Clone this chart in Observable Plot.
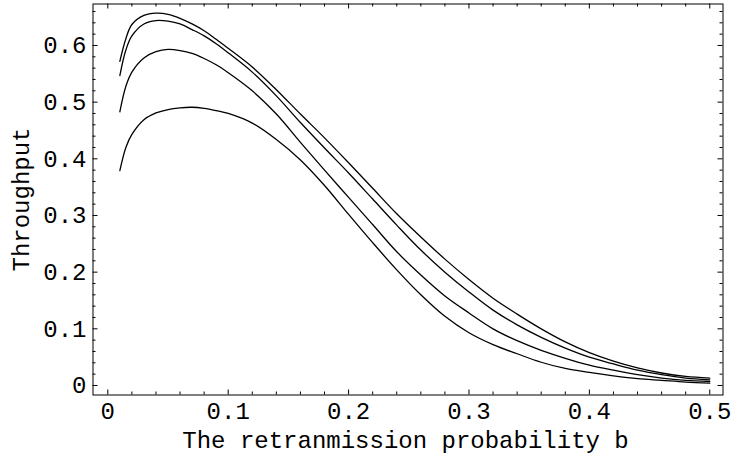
<!DOCTYPE html>
<html>
<head>
<meta charset="utf-8">
<script src="https://cdn.jsdelivr.net/npm/d3@7"></script>
<script src="https://cdn.jsdelivr.net/npm/@observablehq/plot@0.6"></script>
<style>
  body { margin: 0; background: #fff; }
</style>
</head>
<body>
<div id="chart"></div>
<script>
// Retransmission probability b (shared x values)
const b = [0.01, 0.015, 0.02, 0.03, 0.04, 0.05, 0.06, 0.07, 0.08, 0.09, 0.10,
           0.12, 0.14, 0.16, 0.18, 0.20, 0.22, 0.24, 0.26, 0.28, 0.30,
           0.32, 0.34, 0.36, 0.38, 0.40, 0.42, 0.44, 0.46, 0.48, 0.50];

// Throughput series (top to bottom)
const series1 = [0.572, 0.612, 0.637, 0.653, 0.657, 0.655, 0.648, 0.638, 0.626, 0.611, 0.595,
                 0.562, 0.522, 0.479, 0.437, 0.393, 0.348, 0.303, 0.262, 0.223, 0.187,
                 0.154, 0.126, 0.100, 0.077, 0.058, 0.043, 0.031, 0.022, 0.016, 0.013];
const series2 = [0.547, 0.592, 0.617, 0.638, 0.644, 0.643, 0.638, 0.628, 0.617, 0.603, 0.587,
                 0.553, 0.511, 0.464, 0.419, 0.375, 0.329, 0.283, 0.239, 0.200, 0.165,
                 0.133, 0.107, 0.085, 0.066, 0.050, 0.038, 0.027, 0.019, 0.013, 0.010];
const series3 = [0.483, 0.528, 0.553, 0.578, 0.589, 0.593, 0.591, 0.586, 0.577, 0.566, 0.552,
                 0.520, 0.479, 0.429, 0.380, 0.332, 0.284, 0.236, 0.195, 0.158, 0.128,
                 0.100, 0.079, 0.062, 0.048, 0.036, 0.027, 0.019, 0.013, 0.009, 0.007];
const series4 = [0.379, 0.420, 0.443, 0.469, 0.481, 0.487, 0.490, 0.491, 0.489, 0.485, 0.480,
                 0.463, 0.434, 0.398, 0.353, 0.302, 0.252, 0.204, 0.160, 0.122, 0.093,
                 0.072, 0.056, 0.041, 0.030, 0.023, 0.017, 0.012, 0.009, 0.006, 0.004];

// Tick values and labels
const xTicks = [0, 0.1, 0.2, 0.3, 0.4, 0.5];
const xMinorTicks = [0.02, 0.04, 0.06, 0.08, 0.12, 0.14, 0.16, 0.18, 0.22, 0.24, 0.26, 0.28,
                     0.32, 0.34, 0.36, 0.38, 0.42, 0.44, 0.46, 0.48];
const yTicks = [0, 0.1, 0.2, 0.3, 0.4, 0.5, 0.6];
const yMinorTicks = [0.02, 0.04, 0.06, 0.08, 0.12, 0.14, 0.16, 0.18, 0.22, 0.24, 0.26, 0.28,
                     0.32, 0.34, 0.36, 0.38, 0.42, 0.44, 0.46, 0.48, 0.52, 0.54, 0.56, 0.58,
                     0.62, 0.64, 0.66];
const xTitle = "The retranmission probability b";
const yTitle = "Throughput";

const seriesList = [series1, series2, series3, series4];
const rows = seriesList.flatMap((vals, k) => vals.map((v, i) => ({b: b[i], v, series: "curve " + (k + 1)})));

const W = 732, H = 457;
const mL = 92.5, mR = 9.5, mT = 3.5, mB = 62.5;
const frameW = W - mL - mR;
const frameH = H - mT - mB;
const major = 5, minor = 3;

const chart = Plot.plot({
  width: W,
  height: H,
  marginLeft: mL,
  marginRight: mR,
  marginTop: mT,
  marginBottom: mB,
  x: {domain: [-0.0123, 0.511]},
  y: {domain: [-0.0168, 0.6732]},
  style: {fontFamily: "'Liberation Mono', monospace", fontSize: "24px", background: "#fff", color: "#000"},
  marks: [
    Plot.frame({stroke: "#000", strokeWidth: 1}),
    // inward ticks: bottom
    Plot.tickX(xTicks, {x: d => d, insetTop: frameH - major, stroke: "#000"}),
    Plot.tickX(xMinorTicks, {x: d => d, insetTop: frameH - minor, stroke: "#000"}),
    // top
    Plot.tickX(xTicks, {x: d => d, insetBottom: frameH - major, stroke: "#000"}),
    Plot.tickX(xMinorTicks, {x: d => d, insetBottom: frameH - minor, stroke: "#000"}),
    // left
    Plot.tickY(yTicks, {y: d => d, insetRight: frameW - major, stroke: "#000"}),
    Plot.tickY(yMinorTicks, {y: d => d, insetRight: frameW - minor, stroke: "#000"}),
    // right
    Plot.tickY(yTicks, {y: d => d, insetLeft: frameW - major, stroke: "#000"}),
    Plot.tickY(yMinorTicks, {y: d => d, insetLeft: frameW - minor, stroke: "#000"}),
    // tick labels
    Plot.axisX({ticks: xTicks, anchor: "bottom", tickSize: 0, tickPadding: 6.5, tickFormat: d => String(d), label: null, fill: "#000"}),
    Plot.axisY({ticks: yTicks, anchor: "left", tickSize: 0, tickPadding: 6.5, tickFormat: d => String(d), label: null, fill: "#000"}),
    // axis titles
    Plot.text([xTitle], {text: d => d, frameAnchor: "bottom", textAnchor: "middle", lineAnchor: "bottom", dy: 52.5, dx: -2.5, fill: "#000"}),
    Plot.text([yTitle], {text: d => d, frameAnchor: "left", textAnchor: "middle", lineAnchor: "bottom", rotate: -90, dx: -64.5, fill: "#000"}),
    // curves
    Plot.line(rows, {x: "b", y: "v", z: "series", stroke: "#000", strokeWidth: 1.3, curve: "catmull-rom"})
  ]
});
document.getElementById("chart").appendChild(chart);
</script>
</body>
</html>
